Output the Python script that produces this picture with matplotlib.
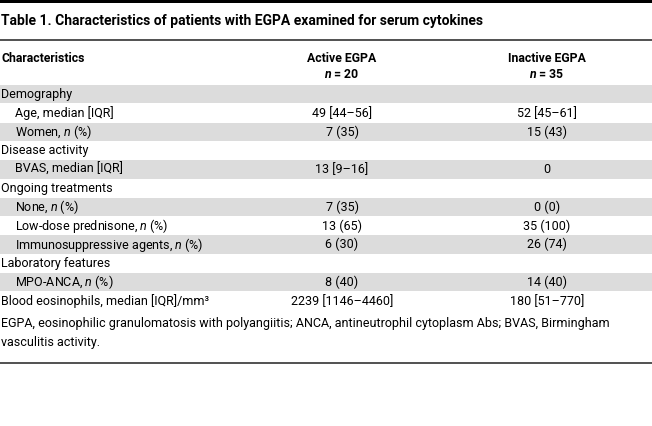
import matplotlib
matplotlib.use("Agg")
import matplotlib.pyplot as plt

# ---------------------------------------------------------------------
# Table content
# ---------------------------------------------------------------------
title = "Table 1. Characteristics of patients with EGPA examined for serum cytokines"
col_heads = ["Active EGPA", "Inactive EGPA"]
col_n = ["20", "35"]

row_labels = [
    "Demography",
    "Age, median [IQR]",
    "Women, $\\it{n}$ (%)",
    "Disease activity",
    "BVAS, median [IQR]",
    "Ongoing treatments",
    "None, $\\it{n}$ (%)",
    "Low-dose prednisone, $\\it{n}$ (%)",
    "Immunosuppressive agents, $\\it{n}$ (%)",
    "Laboratory features",
    "MPO-ANCA, $\\it{n}$ (%)",
    "Blood eosinophils, median [IQR]/mm³",
]
indented = [False, True, True, False, True, False, True, True, True, False, True, False]
active = ["", "49 [44–56]", "7 (35)", "", "13 [9–16]", "", "7 (35)", "13 (65)",
          "6 (30)", "", "8 (40)", "2239 [1146–4460]"]
inactive = ["", "52 [45–61]", "15 (43)", "", "0", "", "0 (0)", "35 (100)",
            "26 (74)", "", "14 (40)", "180 [51–770]"]

footnote = ("EGPA, eosinophilic granulomatosis with polyangiitis; ANCA, antineutrophil cytoplasm Abs; BVAS, Birmingham\n"
            "vasculitis activity.")

# ---------------------------------------------------------------------
# Layout (pixel coordinates)
# ---------------------------------------------------------------------
W, H = 652, 426
plt.rcParams["font.family"] = ["Roboto", "DejaVu Sans"]
plt.rcParams["mathtext.fontset"] = "custom"
plt.rcParams["mathtext.it"] = "Roboto:italic"
plt.rcParams["mathtext.bf"] = "Roboto:italic:bold"
plt.rcParams["mathtext.rm"] = "Roboto"

fig = plt.figure(figsize=(W / 100, H / 100), dpi=100)
ax = fig.add_axes([0, 0, 1, 1])
ax.set_xlim(0, W)
ax.set_ylim(H, 0)
ax.axis("off")

fs = 9.0
fs_head = 8.8
fs_title = 10.0
row_top = 85.0
row_h = 18.8
x_active, x_inactive = 342, 547
gray = "#dcdcdc"

# rules
ax.axhspan(0, 3, color="black", lw=0)
ax.axhline(40, color="#333333", lw=1.2)
ax.axhline(362.5, color="#333333", lw=1.2)

ax.text(1, 21, title, fontsize=fs_title, fontweight="bold", va="center", ha="left")

# header
ax.text(1, 58, "Characteristics", fontsize=fs_head, fontweight="bold", va="center")
for x, head, n in zip([x_active, x_inactive], col_heads, col_n):
    ax.text(x, 58, head, fontsize=fs_head, fontweight="bold", va="center", ha="center")
    ax.text(x, 75, f"$\\mathbf{{n}}$ = {n}", fontsize=fs_head, fontweight="bold",
            va="center", ha="center")

# rows
for i, (lab, ind, a, b) in enumerate(zip(row_labels, indented, active, inactive)):
    y0 = row_top + i * row_h
    if i % 2 == 0:
        ax.axhspan(y0, y0 + row_h - 0.5, color=gray, lw=0)
    yc = y0 + row_h / 2
    ax.text(15 if ind else 1, yc, lab, fontsize=fs, va="center", ha="left")
    ax.text(x_active, yc, a, fontsize=fs, va="center", ha="center")
    ax.text(x_inactive, yc, b, fontsize=fs, va="center", ha="center")

ax.text(1, 333, footnote, fontsize=fs, va="center", ha="left", linespacing=1.65)

fig.savefig("out.png", dpi=100)
